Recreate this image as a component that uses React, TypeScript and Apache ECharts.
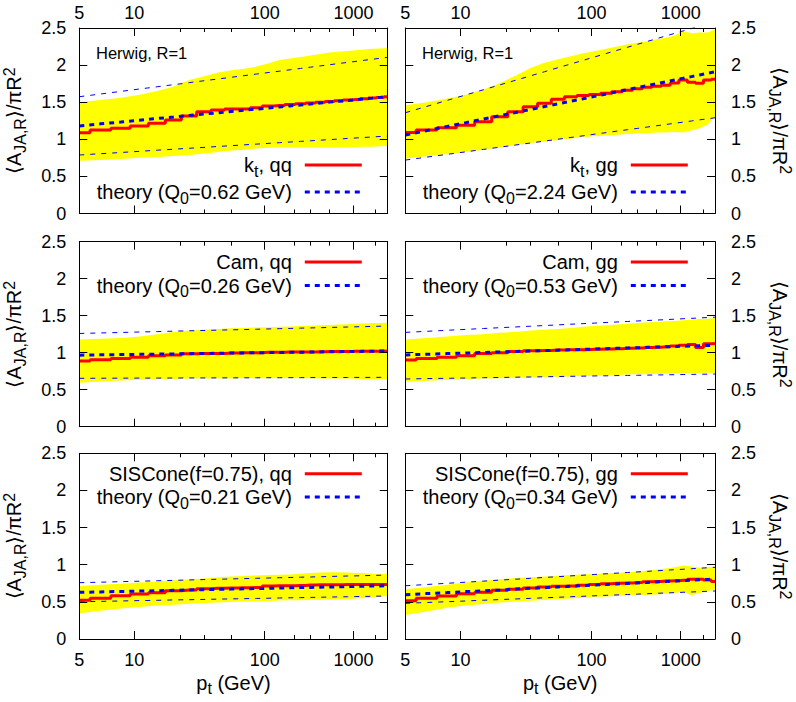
import React, { useEffect, useRef } from "react";
import * as echarts from "echarts";

// ---------- data ----------
const LAMBDA_GEV = 0.2; // scale of the ln ln(pt/Lambda) abscissa
const ptCenters = [5, 6.458, 8.341, 10.77, 13.92, 17.97, 23.21, 29.98, 38.72, 50, 64.58, 83.41, 107.7, 139.2, 179.7, 232.1, 299.8, 387.2, 500, 645.8, 834.1, 1077, 1392, 1797, 2321, 2998];
const xLabelValues = [5, 10, 100, 1000];
const xMajorTickValues = [10, 100, 1000];
const xMinorTickValues = [20, 30, 50, 200, 300, 500, 2000];
const yMin = 0;
const yMax = 2.5;
const yInterval = 0.5;

// kt, qq
const ktQQ_mc = [1.089, 1.125, 1.148, 1.18, 1.216, 1.26, 1.314, 1.372, 1.395, 1.408, 1.41, 1.426, 1.449, 1.455, 1.47, 1.48, 1.49, 1.50, 1.51, 1.52, 1.53, 1.535, 1.545, 1.555, 1.565, 1.575];
const ktQQ_theory = [1.180, 1.208, 1.233, 1.257, 1.280, 1.301, 1.321, 1.340, 1.358, 1.375, 1.391, 1.407, 1.422, 1.436, 1.450, 1.463, 1.476, 1.489, 1.501, 1.512, 1.523, 1.534, 1.545, 1.555, 1.565, 1.575];
const ktQQ_theoryHi = [1.574, 1.611, 1.646, 1.678, 1.708, 1.736, 1.763, 1.789, 1.813, 1.836, 1.858, 1.879, 1.899, 1.918, 1.937, 1.955, 1.972, 1.989, 2.005, 2.021, 2.036, 2.050, 2.065, 2.078, 2.092, 2.105];
const ktQQ_theoryLo = [0.788, 0.806, 0.822, 0.838, 0.853, 0.866, 0.879, 0.891, 0.903, 0.914, 0.925, 0.935, 0.945, 0.954, 0.963, 0.972, 0.980, 0.988, 0.996, 1.003, 1.011, 1.018, 1.025, 1.031, 1.038, 1.044];
const ktQQ_bandHi = [1.50, 1.53, 1.56, 1.60, 1.65, 1.71, 1.80, 1.85, 1.90, 1.93, 1.95, 1.98, 2.02, 2.07, 2.09, 2.11, 2.13, 2.15, 2.17, 2.18, 2.19, 2.20, 2.21, 2.22, 2.225, 2.23];
const ktQQ_bandLo = [0.71, 0.72, 0.735, 0.75, 0.76, 0.775, 0.79, 0.81, 0.83, 0.85, 0.86, 0.875, 0.885, 0.89, 0.89, 0.89, 0.89, 0.885, 0.885, 0.89, 0.89, 0.895, 0.90, 0.90, 0.905, 0.91];

// kt, gg
const ktGG_mc = [1.09, 1.125, 1.157, 1.19, 1.237, 1.305, 1.372, 1.44, 1.485, 1.54, 1.574, 1.59, 1.605, 1.62, 1.64, 1.66, 1.68, 1.70, 1.715, 1.73, 1.76, 1.80, 1.77, 1.755, 1.80, 1.81];
const ktGG_theory = [1.058, 1.118, 1.173, 1.224, 1.273, 1.319, 1.362, 1.402, 1.441, 1.478, 1.513, 1.547, 1.580, 1.611, 1.640, 1.669, 1.697, 1.724, 1.750, 1.775, 1.799, 1.822, 1.845, 1.867, 1.889, 1.910];
const ktGG_theoryHi = [1.358, 1.444, 1.524, 1.598, 1.668, 1.734, 1.796, 1.855, 1.911, 1.965, 2.015, 2.064, 2.111, 2.156, 2.199, 2.240, 2.280, 2.319, 2.356, 2.393, 2.427, 2.461, 2.495, 2.527, 2.558, 2.588];
const ktGG_theoryLo = [0.720, 0.760, 0.797, 0.831, 0.864, 0.894, 0.923, 0.950, 0.976, 1.001, 1.025, 1.047, 1.069, 1.090, 1.110, 1.129, 1.147, 1.165, 1.183, 1.199, 1.216, 1.231, 1.247, 1.262, 1.276, 1.290];
const ktGG_bandHi = [1.46, 1.50, 1.55, 1.60, 1.67, 1.76, 1.86, 1.96, 2.03, 2.08, 2.12, 2.16, 2.19, 2.22, 2.25, 2.28, 2.30, 2.32, 2.35, 2.37, 2.40, 2.46, 2.43, 2.44, 2.44, 2.48];
const ktGG_bandLo = [0.74, 0.77, 0.80, 0.83, 0.86, 0.89, 0.92, 0.95, 0.97, 0.99, 1.01, 1.03, 1.04, 1.05, 1.06, 1.07, 1.08, 1.08, 1.09, 1.09, 1.10, 1.09, 1.12, 1.15, 1.20, 1.30];

// Cam, qq
const camQQ_mc = [0.888, 0.905, 0.92, 0.94, 0.96, 0.97, 0.985, 0.99, 0.99, 0.995, 1.0, 1.0, 1.005, 1.005, 1.01, 1.01, 1.01, 1.013, 1.015, 1.015, 1.015, 1.02, 1.02, 1.02, 1.02, 1.022];
const camQQ_theory = [0.967, 0.971, 0.975, 0.978, 0.981, 0.984, 0.987, 0.990, 0.992, 0.995, 0.997, 0.999, 1.001, 1.003, 1.005, 1.007, 1.009, 1.011, 1.012, 1.014, 1.016, 1.017, 1.019, 1.020, 1.022, 1.023];
const camQQ_theoryHi = [1.260, 1.267, 1.273, 1.280, 1.285, 1.291, 1.296, 1.300, 1.305, 1.309, 1.313, 1.317, 1.321, 1.325, 1.328, 1.332, 1.335, 1.338, 1.341, 1.344, 1.347, 1.350, 1.352, 1.355, 1.358, 1.360];
const camQQ_theoryLo = [0.654, 0.655, 0.656, 0.657, 0.657, 0.658, 0.659, 0.659, 0.660, 0.660, 0.661, 0.661, 0.662, 0.662, 0.663, 0.663, 0.664, 0.664, 0.665, 0.665, 0.665, 0.666, 0.666, 0.666, 0.667, 0.667];
const camQQ_bandHi = [1.18, 1.19, 1.20, 1.22, 1.25, 1.28, 1.30, 1.31, 1.32, 1.33, 1.335, 1.34, 1.345, 1.35, 1.355, 1.36, 1.365, 1.37, 1.375, 1.38, 1.385, 1.39, 1.395, 1.40, 1.40, 1.405];
const camQQ_bandLo = [0.595, 0.61, 0.625, 0.635, 0.64, 0.645, 0.65, 0.65, 0.652, 0.652, 0.654, 0.654, 0.655, 0.655, 0.655, 0.655, 0.654, 0.653, 0.652, 0.651, 0.65, 0.648, 0.646, 0.645, 0.644, 0.642];

// Cam, gg
const camGG_mc = [0.90, 0.92, 0.94, 0.96, 0.99, 1.0, 1.015, 1.025, 1.03, 1.035, 1.04, 1.04, 1.045, 1.05, 1.055, 1.06, 1.065, 1.07, 1.075, 1.08, 1.09, 1.10, 1.11, 1.07, 1.12, 1.125];
const camGG_theory = [0.970, 0.979, 0.988, 0.995, 1.003, 1.010, 1.016, 1.023, 1.028, 1.034, 1.039, 1.045, 1.050, 1.054, 1.059, 1.063, 1.067, 1.072, 1.076, 1.079, 1.083, 1.087, 1.090, 1.094, 1.097, 1.100];
const camGG_theoryHi = [1.275, 1.289, 1.303, 1.315, 1.327, 1.338, 1.348, 1.358, 1.367, 1.376, 1.385, 1.393, 1.400, 1.408, 1.415, 1.422, 1.429, 1.435, 1.441, 1.447, 1.453, 1.459, 1.464, 1.470, 1.475, 1.480];
const camGG_theoryLo = [0.645, 0.650, 0.654, 0.658, 0.662, 0.665, 0.669, 0.672, 0.675, 0.678, 0.681, 0.683, 0.686, 0.688, 0.691, 0.693, 0.695, 0.697, 0.699, 0.701, 0.703, 0.705, 0.707, 0.709, 0.710, 0.712];
const camGG_bandHi = [1.18, 1.20, 1.22, 1.24, 1.25, 1.27, 1.28, 1.30, 1.31, 1.32, 1.335, 1.35, 1.36, 1.37, 1.38, 1.39, 1.40, 1.41, 1.415, 1.425, 1.43, 1.44, 1.45, 1.455, 1.46, 1.47];
const camGG_bandLo = [0.61, 0.62, 0.63, 0.64, 0.65, 0.655, 0.66, 0.665, 0.67, 0.675, 0.68, 0.685, 0.69, 0.695, 0.70, 0.705, 0.71, 0.71, 0.715, 0.715, 0.72, 0.72, 0.725, 0.725, 0.73, 0.73];

// SISCone(f=0.75), qq
const sisQQ_mc = [0.52, 0.548, 0.583, 0.606, 0.624, 0.65, 0.659, 0.675, 0.682, 0.685, 0.69, 0.695, 0.712, 0.717, 0.718, 0.72, 0.728, 0.731, 0.732, 0.732, 0.733, 0.733, 0.734, 0.734, 0.734, 0.735];
const sisQQ_theory = [0.628, 0.634, 0.640, 0.645, 0.650, 0.655, 0.660, 0.664, 0.668, 0.672, 0.676, 0.679, 0.682, 0.686, 0.689, 0.692, 0.695, 0.698, 0.700, 0.703, 0.705, 0.708, 0.710, 0.713, 0.715, 0.717];
const sisQQ_theoryHi = [0.758, 0.765, 0.772, 0.778, 0.784, 0.789, 0.795, 0.800, 0.804, 0.809, 0.813, 0.817, 0.821, 0.825, 0.828, 0.832, 0.835, 0.838, 0.842, 0.845, 0.848, 0.850, 0.853, 0.856, 0.858, 0.861];
const sisQQ_theoryLo = [0.502, 0.507, 0.512, 0.517, 0.521, 0.526, 0.529, 0.533, 0.537, 0.540, 0.543, 0.546, 0.549, 0.552, 0.555, 0.557, 0.560, 0.562, 0.565, 0.567, 0.569, 0.571, 0.573, 0.575, 0.577, 0.579];
const sisQQ_bandHi = [0.713, 0.73, 0.745, 0.76, 0.775, 0.79, 0.80, 0.815, 0.83, 0.84, 0.848, 0.855, 0.86, 0.865, 0.87, 0.88, 0.89, 0.895, 0.90, 0.90, 0.895, 0.89, 0.885, 0.88, 0.878, 0.875];
const sisQQ_bandLo = [0.346, 0.38, 0.41, 0.43, 0.45, 0.462, 0.475, 0.485, 0.493, 0.50, 0.505, 0.51, 0.513, 0.517, 0.52, 0.523, 0.525, 0.527, 0.53, 0.535, 0.54, 0.545, 0.55, 0.56, 0.57, 0.579];

// SISCone(f=0.75), gg
const sisGG_mc = [0.515, 0.55, 0.58, 0.61, 0.63, 0.655, 0.67, 0.685, 0.70, 0.71, 0.715, 0.725, 0.735, 0.745, 0.75, 0.755, 0.76, 0.77, 0.775, 0.78, 0.785, 0.79, 0.805, 0.805, 0.795, 0.775];
const sisGG_theory = [0.597, 0.612, 0.625, 0.638, 0.650, 0.661, 0.672, 0.682, 0.691, 0.701, 0.709, 0.718, 0.726, 0.733, 0.741, 0.748, 0.754, 0.761, 0.767, 0.774, 0.780, 0.785, 0.791, 0.797, 0.802, 0.807];
const sisGG_theoryHi = [0.717, 0.734, 0.750, 0.765, 0.779, 0.793, 0.805, 0.817, 0.829, 0.839, 0.850, 0.859, 0.869, 0.878, 0.887, 0.895, 0.903, 0.911, 0.918, 0.926, 0.933, 0.939, 0.946, 0.953, 0.959, 0.965];
const sisGG_theoryLo = [0.480, 0.492, 0.502, 0.512, 0.522, 0.531, 0.539, 0.547, 0.555, 0.562, 0.569, 0.575, 0.582, 0.588, 0.593, 0.599, 0.604, 0.610, 0.615, 0.620, 0.624, 0.629, 0.633, 0.638, 0.642, 0.646];
const sisGG_bandHi = [0.67, 0.70, 0.73, 0.76, 0.785, 0.805, 0.82, 0.83, 0.84, 0.85, 0.86, 0.87, 0.875, 0.885, 0.89, 0.90, 0.91, 0.92, 0.935, 0.95, 0.965, 0.99, 0.975, 0.96, 0.965, 0.973];
const sisGG_bandLo = [0.323, 0.37, 0.42, 0.45, 0.47, 0.49, 0.505, 0.515, 0.525, 0.535, 0.545, 0.555, 0.565, 0.572, 0.58, 0.585, 0.59, 0.595, 0.60, 0.61, 0.62, 0.635, 0.59, 0.62, 0.645, 0.66];

const mcLabels = ["{m|k}{s|t}{m|, qq}", "{m|k}{s|t}{m|, gg}", "{m|Cam, qq}", "{m|Cam, gg}", "{m|SISCone(f=0.75), qq}", "{m|SISCone(f=0.75), gg}"];
const theoryQ0 = ["0.62", "2.24", "0.26", "0.53", "0.21", "0.34"];
const generatorLabel = "Herwig, R=1";

// ---------- layout ----------
const W = 796;
const H = 702;
const FONT = '"Liberation Sans", Arial, Helvetica, sans-serif';
const colLeft = [79.3, 405.3];
const colWidth = [308.4, 309.7];
const rowTop = [28, 241.7, 453.3];
const rowHeight = [185.5, 185, 185.7];
const LINE_H = 26;

const T = (pt: number) => Math.log(Math.log(pt / LAMBDA_GEV));

const rich = {
  m: { fontSize: 20, lineHeight: LINE_H, fontFamily: FONT, color: "#000" },
  s: { fontSize: 16, lineHeight: 6, verticalAlign: "top", padding: [11, 0, 0, 0], fontFamily: FONT, color: "#000" },
  p: { fontSize: 16, lineHeight: 6, verticalAlign: "top", fontFamily: FONT, color: "#000" },
  g: { width: 8, fontSize: 20, lineHeight: LINE_H },
};

const panels = [
  { row: 0, col: 0, mc: ktQQ_mc, th: ktQQ_theory, hi: ktQQ_theoryHi, lo: ktQQ_theoryLo, bHi: ktQQ_bandHi, bLo: ktQQ_bandLo },
  { row: 0, col: 1, mc: ktGG_mc, th: ktGG_theory, hi: ktGG_theoryHi, lo: ktGG_theoryLo, bHi: ktGG_bandHi, bLo: ktGG_bandLo },
  { row: 1, col: 0, mc: camQQ_mc, th: camQQ_theory, hi: camQQ_theoryHi, lo: camQQ_theoryLo, bHi: camQQ_bandHi, bLo: camQQ_bandLo },
  { row: 1, col: 1, mc: camGG_mc, th: camGG_theory, hi: camGG_theoryHi, lo: camGG_theoryLo, bHi: camGG_bandHi, bLo: camGG_bandLo },
  { row: 2, col: 0, mc: sisQQ_mc, th: sisQQ_theory, hi: sisQQ_theoryHi, lo: sisQQ_theoryLo, bHi: sisQQ_bandHi, bLo: sisQQ_bandLo },
  { row: 2, col: 1, mc: sisGG_mc, th: sisGG_theory, hi: sisGG_theoryHi, lo: sisGG_theoryLo, bHi: sisGG_bandHi, bLo: sisGG_bandLo },
];

function xLabelFormatter(v: number) {
  const pt = LAMBDA_GEV * Math.exp(Math.exp(v));
  let best = xLabelValues[0];
  for (const c of xLabelValues) {
    if (Math.abs(Math.log(c / pt)) < Math.abs(Math.log(best / pt))) best = c;
  }
  return String(best);
}

function buildOption() {
  const grid: any[] = [];
  const xAxis: any[] = [];
  const yAxis: any[] = [];
  const series: any[] = [];
  const legend: any[] = [];
  const legendText: Record<string, string> = {};
  const xMin = T(ptCenters[0]);
  const xMax = T(ptCenters[ptCenters.length - 1]);
  const yTitle = "{m|⟨A}{s|JA,R}{m|⟩/πR}{p|2}";

  panels.forEach((p, i) => {
    grid.push({
      left: colLeft[p.col],
      top: rowTop[p.row],
      width: colWidth[p.col],
      height: rowHeight[p.row],
      containLabel: false,
      outerBoundsMode: "none",
      show: false,
    });
    const xi = xAxis.length;
    const mkX = (position: string, ticks: number[], len: number, line: boolean, labels: boolean, name?: string) => ({
      type: "value",
      gridIndex: i,
      position,
      min: xMin,
      max: xMax,
      z: 10,
      splitLine: { show: false },
      axisLine: { show: line, onZero: false, lineStyle: { color: "#000", width: 1 } },
      axisTick: { show: true, inside: true, length: len, customValues: ticks.map(T), lineStyle: { color: "#000", width: 1 } },
      axisLabel: labels
        ? {
            show: true,
            customValues: xLabelValues.map(T),
            formatter: xLabelFormatter,
            color: "#000",
            fontSize: 18,
            fontFamily: FONT,
            margin: position === "top" ? 6 : 12,
          }
        : { show: false },
      name: name || "",
      nameLocation: "middle",
      nameGap: 25,
      nameTextStyle: { rich },
    });
    xAxis.push(
      mkX("bottom", xMajorTickValues, 8, true, p.row === 2, p.row === 2 ? "{m|p}{s|t}{m| (GeV)}" : ""),
      mkX("bottom", xMinorTickValues, 4, false, false),
      mkX("top", xMajorTickValues, 8, true, p.row === 0),
      mkX("top", xMinorTickValues, 4, false, false)
    );
    const yi = yAxis.length;
    const mkY = (position: string, labels: boolean) => ({
      type: "value",
      gridIndex: i,
      position,
      min: yMin,
      max: yMax,
      interval: yInterval,
      z: 10,
      splitLine: { show: false },
      axisLine: { show: true, onZero: false, lineStyle: { color: "#000", width: 1 } },
      axisTick: { show: true, inside: true, length: 8, lineStyle: { color: "#000", width: 1 } },
      axisLabel: labels
        ? { show: true, color: "#000", fontSize: 18, fontFamily: FONT, margin: position === "left" ? 13 : 16 }
        : { show: false },
      name: labels ? yTitle : "",
      nameLocation: "middle",
      nameRotate: position === "left" ? 90 : -90,
      nameGap: 52.3,
      nameTextStyle: { rich },
    });
    yAxis.push(mkY("left", p.col === 0), mkY("right", p.col === 1));

    const pts = (arr: number[]) => ptCenters.map((pt, k) => [T(pt), arr[k]]);
    const common = { xAxisIndex: xi, yAxisIndex: yi, symbol: "none", showSymbol: false, silent: true, animation: false };
    const bandData = ptCenters.map((pt, k) => [T(pt), p.bLo[k], p.bHi[k]]);
    series.push(
      {
        type: "custom",
        name: `band-${i}`,
        xAxisIndex: xi,
        yAxisIndex: yi,
        silent: true,
        clip: true,
        z: 1,
        data: bandData,
        renderItem: (params: any, api: any) => {
          if (params.dataIndex !== 0) return null;
          const upper = bandData.map((d) => api.coord([d[0], d[2]]));
          const lower = bandData.map((d) => api.coord([d[0], d[1]])).reverse();
          return {
            type: "polygon",
            shape: { points: upper.concat(lower) },
            style: { fill: "#ffff00", stroke: null },
          };
        },
      },
      {
        ...common,
        type: "line",
        name: `thHi-${i}`,
        data: pts(p.hi),
        lineStyle: { color: "#0000ff", width: 1, type: [5, 6] },
        itemStyle: { color: "#0000ff" },
        z: 2,
      },
      {
        ...common,
        type: "line",
        name: `thLo-${i}`,
        data: pts(p.lo),
        lineStyle: { color: "#0000ff", width: 1, type: [5, 6] },
        itemStyle: { color: "#0000ff" },
        z: 2,
      },
      {
        ...common,
        type: "line",
        name: `mc-${i}`,
        step: "middle",
        data: pts(p.mc),
        lineStyle: { color: "#ff0000", width: 3 },
        itemStyle: { color: "#ff0000" },
        z: 3,
      },
      {
        ...common,
        type: "line",
        name: `th-${i}`,
        data: pts(p.th),
        lineStyle: { color: "#0000ff", width: 3, type: [5, 5] },
        itemStyle: { color: "#0000ff" },
        z: 4,
      }
    );
    legendText[`mc-${i}`] = mcLabels[i] + "{g| }";
    legendText[`th-${i}`] = `{m|theory (Q}{s|0}{m|=${theoryQ0[i]} GeV)}{g| }`;
    const legendTop = p.row === 0 ? 152 : rowTop[p.row] + 10;
    legend.push({
      orient: "vertical",
      align: "right",
      right: W - (colLeft[p.col] + 284),
      top: legendTop,
      padding: 0,
      itemGap: 0,
      itemWidth: 57,
      itemHeight: LINE_H,
      selectedMode: false,
      data: [`mc-${i}`, `th-${i}`],
      formatter: (n: string) => legendText[n],
      textStyle: { rich, fontSize: 20, fontFamily: FONT, color: "#000" },
      lineStyle: { width: 3 },
      itemStyle: { opacity: 0, color: "rgba(0,0,0,0)", borderWidth: 0 },
      z: 20,
    });
  });

  const graphic = [0, 1].map((c) => ({
    type: "text",
    x: colLeft[c] + 16.7,
    y: 53,
    z: 20,
    style: { text: generatorLabel, font: `16.5px ${FONT}`, fill: "#000", verticalAlign: "middle", align: "left" },
  }));

  return { animation: false, backgroundColor: "#fff", grid, xAxis, yAxis, series, legend, graphic };
}

export default function App() {
  const ref = useRef<HTMLDivElement>(null);
  useEffect(() => {
    if (!ref.current) return;
    const chart = echarts.init(ref.current, undefined, { renderer: "svg" });
    chart.setOption(buildOption() as any);
    return () => chart.dispose();
  }, []);
  return <div ref={ref} style={{ position: "absolute", left: 0, top: 0, width: W, height: H }} />;
}
